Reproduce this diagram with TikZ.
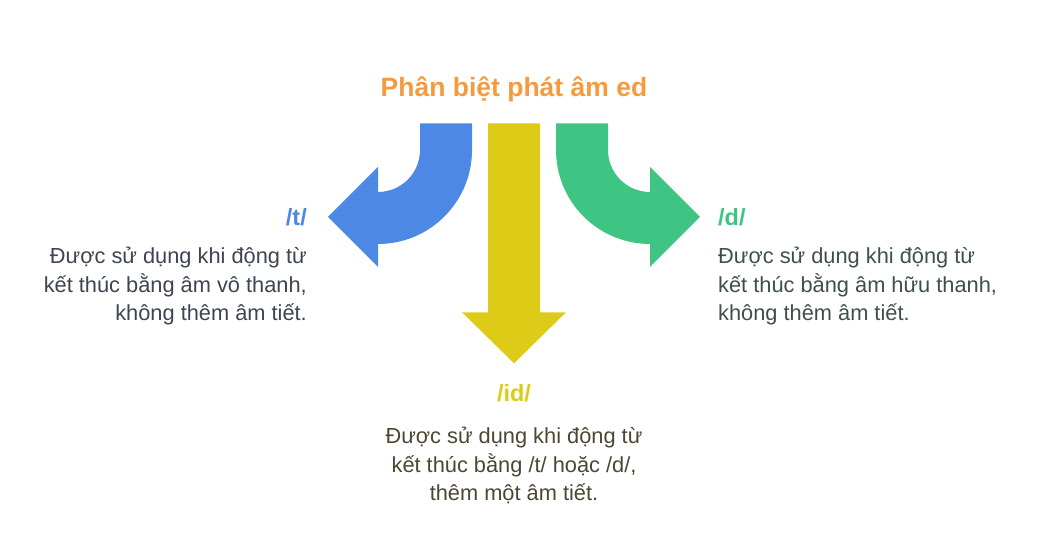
\documentclass[tikz,border=0pt]{standalone}
\usepackage{fontspec}
\setmainfont{Liberation Sans}
\usepackage{xcolor}
\usetikzlibrary{positioning}

\definecolor{titleorange}{HTML}{F59A3D}
\definecolor{tblue}{HTML}{4E88E5}
\definecolor{idyellow}{HTML}{DECB17}
\definecolor{dgreen}{HTML}{3FC583}
\definecolor{ttext}{HTML}{3D4553}
\definecolor{idtext}{HTML}{4B4733}
\definecolor{dtext}{HTML}{3E5049}

\begin{document}
\begin{tikzpicture}[x=1pt,y=1pt,
  title/.style={font=\fontsize{26.5}{31}\selectfont\bfseries,text=titleorange,inner sep=0pt},
  tag/.style={font=\fontsize{23.5}{28}\selectfont\bfseries,inner sep=0pt},
  desc/.style={font=\fontsize{21.8}{28.5}\selectfont,inner sep=0pt}]
  \useasboundingbox (0,0) rectangle (1042,556);
  % ---- title ----
  \node[title,anchor=base] (head) at (514,459) {Phân biệt phát âm ed};
  % ---- arrows ----
  \fill[tblue] (472,432.7) -- (420,432.7) -- (420,406)
    arc[start angle=0,end angle=-90,radius=42] -- (378,389) -- (328,339)
    -- (378,289) -- (378,312) arc[start angle=-90,end angle=0,radius=94] -- cycle;
  \fill[idyellow] (488,432.7) -- (540,432.7) -- (540,243.7) -- (566,243.7)
    -- (514,192.7) -- (462,243.7) -- (488,243.7) -- cycle;
  \fill[dgreen] (556,432.7) -- (608,432.7) -- (608,406)
    arc[start angle=180,end angle=270,radius=42] -- (650,389) -- (700,339)
    -- (650,289) -- (650,312) arc[start angle=270,end angle=180,radius=94] -- cycle;
  % ---- /t/ ----
  \node[tag,text=tblue,anchor=east] (t) at (307,339) {/t/};
  \node[desc,text=ttext,align=right,anchor=north east] (tdesc) at (307,309)
    {Được sử dụng khi động từ\\ kết thúc bằng âm vô thanh,\\ không thêm âm tiết.};
  % ---- /id/ ----
  \node[tag,text=idyellow] (id) at (514,163) {/id/};
  \node[desc,text=idtext,align=center,anchor=north] (iddesc) at (514,129)
    {Được sử dụng khi động từ\\ kết thúc bằng /t/ hoặc /d/,\\ thêm một âm tiết.};
  % ---- /d/ ----
  \node[tag,text=dgreen,anchor=west] (d) at (718,339) {/d/};
  \node[desc,text=dtext,align=left,anchor=north west] (ddesc) at (718,309)
    {Được sử dụng khi động từ\\ kết thúc bằng âm hữu thanh,\\ không thêm âm tiết.};
\end{tikzpicture}
\end{document}
